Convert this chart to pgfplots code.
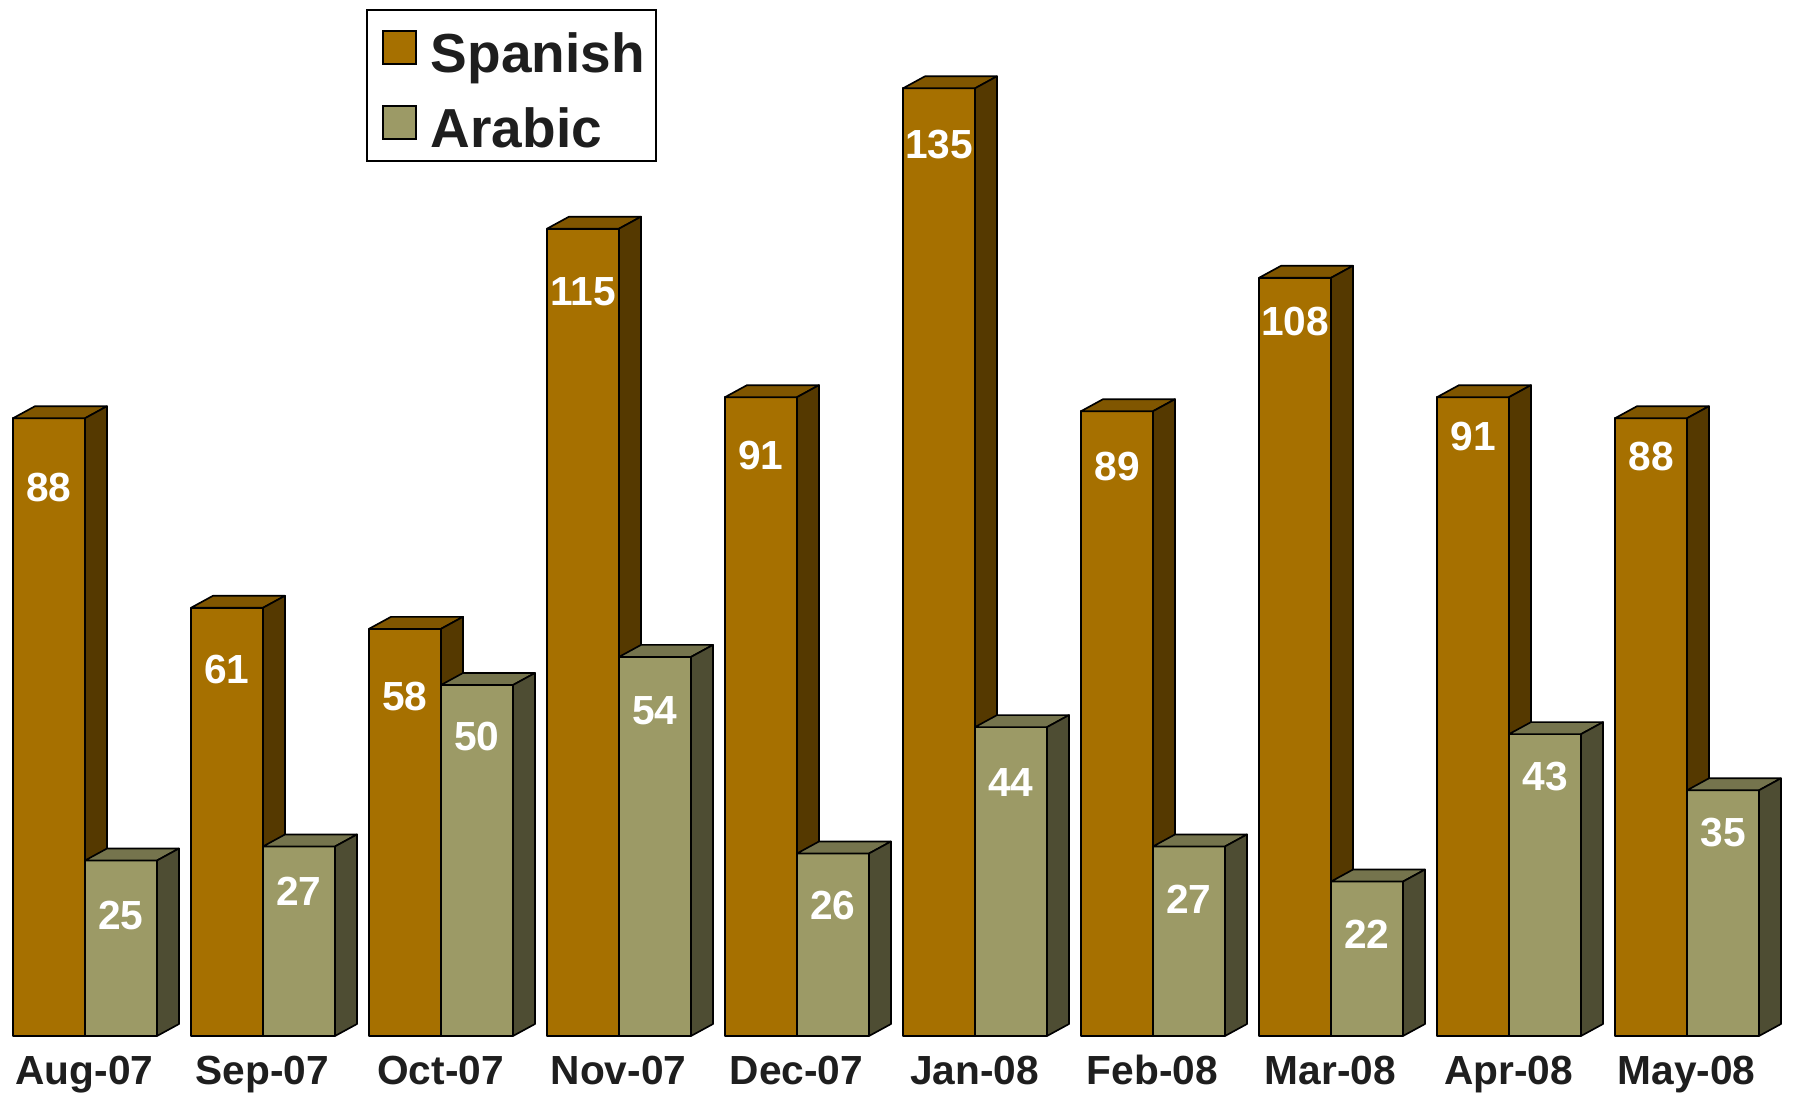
\documentclass[border=0pt]{standalone}
\usepackage{pgfplots}
\pgfplotsset{compat=1.18}
\usepackage{pgfplotstable}
\usepackage{fontspec}
\setmainfont{Liberation Sans}
\definecolor{spF}{RGB}{166,112,0}
\definecolor{spT}{RGB}{128,86,0}
\definecolor{spS}{RGB}{85,57,0}
\definecolor{arF}{RGB}{156,154,102}
\definecolor{arT}{RGB}{117,116,77}
\definecolor{arS}{RGB}{78,77,51}
\definecolor{txt}{RGB}{30,30,30}
\newcommand\labfont{\fontsize{12.2}{14}\selectfont\bfseries}
\newcommand\legfont{\fontsize{16.5}{19}\selectfont\bfseries}

% i = category index, values, offS/offA = label offset below bar top (px)
\pgfplotstableread{
i spanish arabic offS offA
0 88  25 69 55
1 61  27 62 45
2 58  50 68 52
3 115 54 63 54
4 91  26 58 52
5 135 44 56 55
6 89  27 55 53
7 108 22 44 53
8 91  43 39 42
9 88  35 38 42
}\datatable

% 3D box mark: origin = front top centre; 1px = 0.3pt; 1 unit = 2.106pt
\newcommand\boxmark[3]{%
  \filldraw[draw=black, line width=0.5pt, line join=round, fill=#1]
    (-10.8pt,0pt) rectangle (10.8pt,{-\h*2.106pt});
  \filldraw[draw=black, line width=0.5pt, line join=round, fill=#2]
    (-10.8pt,0pt) -- (-4.2pt,3.6pt) -- (17.4pt,3.6pt) -- (10.8pt,0pt) -- cycle;
  \filldraw[draw=black, line width=0.5pt, line join=round, fill=#3]
    (10.8pt,0pt) -- (17.4pt,3.6pt) -- (17.4pt,{3.6pt-\h*2.106pt}) -- (10.8pt,{-\h*2.106pt}) -- cycle;
  \node[text=white, font=\labfont, inner sep=0pt] at (0pt,{-\off*0.3pt})
    {\pgfmathprintnumber[fixed,precision=0,assume math mode=true]{\h}};
}
\pgfdeclareplotmark{boxS}{\boxmark{spF}{spT}{spS}}
\pgfdeclareplotmark{boxA}{\boxmark{arF}{arT}{arS}}

\begin{document}
\begin{tikzpicture}
\begin{axis}[
  name=ax,
  x=0.3pt, y=2.106pt,
  xmin=0, xmax=1797, ymin=-8.832, ymax=147.58,
  axis line style={draw=none},
  major tick length=0pt,
  ytick=\empty,
  xtick={84.5,262.5,440.5,618.5,796.5,974.5,1152.5,1330.5,1508.5,1686.5},
  xticklabels={Aug-07,Sep-07,Oct-07,Nov-07,Dec-07,Jan-08,Feb-08,Mar-08,Apr-08,May-08},
  xticklabel style={anchor=base, yshift=3.9pt, font=\labfont, text=txt},
  clip=false,
  legend cell align=left,
  legend style={at={(rel axis cs:0.2037,0.9918)}, anchor=north west,
    draw=black, line width=0.5pt, font=\legfont, text=txt,
    inner xsep=3.3pt, inner ysep=4pt, row sep=7.7pt,
    nodes={inner sep=0pt, text height=14.8pt, text depth=0pt}},
]
\addplot[only marks, mark=boxS, forget plot,
  visualization depends on={\thisrow{spanish} \as \h},
  visualization depends on={\thisrow{offS} \as \off}]
  table[x expr={49+178*\thisrow{i}}, y=spanish] {\datatable};
\addplot[only marks, mark=boxA, forget plot,
  visualization depends on={\thisrow{arabic} \as \h},
  visualization depends on={\thisrow{offA} \as \off}]
  table[x expr={121+178*\thisrow{i}}, y=arabic] {\datatable};
\addlegendimage{legend image code/.code={\path[draw=none,fill=none] (-1.5pt,0pt) rectangle (14.4pt,0.1pt);\filldraw[fill=spF, draw=black, line width=0.5pt] (0pt,-4.95pt) rectangle (9.9pt,4.95pt);}}
\addlegendentry{Spanish}
\addlegendimage{legend image code/.code={\path[draw=none,fill=none] (-1.5pt,0pt) rectangle (14.4pt,0.1pt);\filldraw[fill=arF, draw=black, line width=0.5pt] (0pt,-4.95pt) rectangle (9.9pt,4.95pt);}}
\addlegendentry{Arabic}
\end{axis}
\pgfresetboundingbox
\path[use as bounding box] (ax.south west) rectangle (ax.north east);
\end{tikzpicture}
\end{document}
